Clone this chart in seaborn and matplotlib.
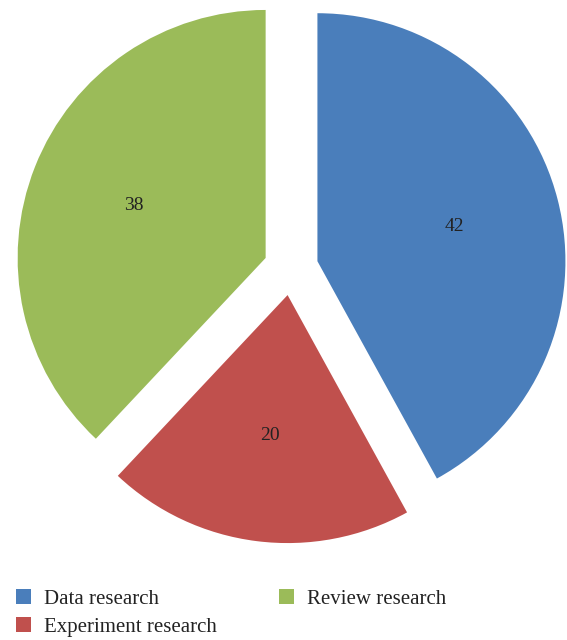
import matplotlib
matplotlib.use("Agg")
import matplotlib.pyplot as plt
import seaborn as sns

categories = ["Data research", "Experiment research", "Review research"]
values = [42, 20, 38]
colors = ["#4A7EBB", "#C0504D", "#9BBB59"]

sns.set_theme(style="white")
plt.rcParams["font.family"] = ["Liberation Serif", "DejaVu Serif"]

W, H = 567, 640
fig = plt.figure(figsize=(W / 100, H / 100), dpi=100)
R = 248.0
k = 1.2
cx, cy = 291.0, H - 268.0
side = 2 * k * R
ax = fig.add_axes([(cx - k * R) / W, (cy - k * R) / H, side / W, side / H])

wedges, texts, autotexts = ax.pie(
    values,
    colors=colors,
    startangle=90,
    counterclock=False,
    explode=[0.11, 0.11, 0.11],
    autopct=lambda p: f"{p:.0f}",
    pctdistance=0.57,
    textprops=dict(fontsize=14, color="#222222"),
    wedgeprops=dict(linewidth=0),
)
ax.set_xlim(-k, k)
ax.set_ylim(-k, k)
ax.set_aspect("auto")
ax.axis("off")

leg = fig.legend(
    wedges,
    categories,
    loc="upper left",
    bbox_to_anchor=(16 / W, 1 - 589 / H),
    ncol=2,
    frameon=False,
    fontsize=15,
    handlelength=0.72,
    handleheight=0.72,
    handletextpad=0.62,
    columnspacing=3.0,
    labelspacing=0.4,
    borderaxespad=0,
    borderpad=0,
)
for t in leg.get_texts():
    t.set_color("#222222")

fig.savefig("out.png", dpi=100)
